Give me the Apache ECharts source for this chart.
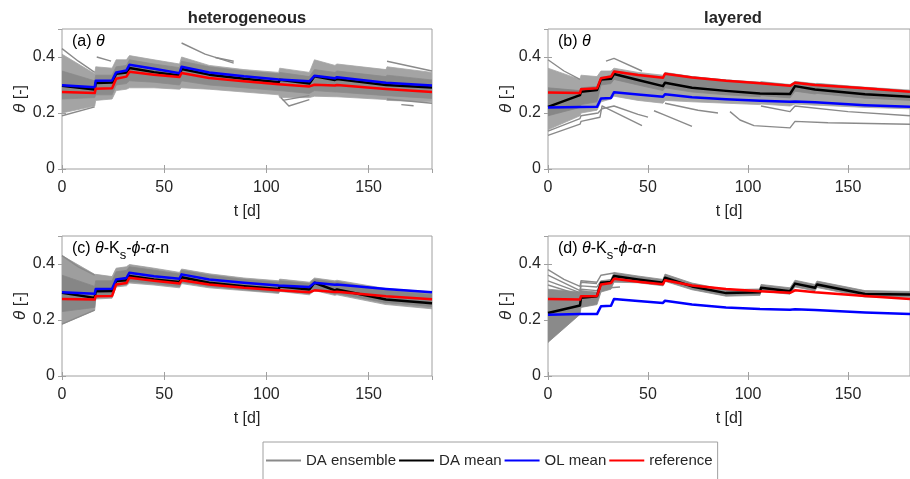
<!DOCTYPE html>
<html>
<head>
<meta charset="utf-8">
<script src="https://cdn.jsdelivr.net/npm/echarts@6/dist/echarts.min.js"></script>
<style>
  html, body { margin: 0; padding: 0; background: #ffffff; }
  #chart { width: 910px; height: 479px; }
</style>
</head>
<body>
<div id="chart"></div>
<script>
// Shared time axis (days) at which the soil-moisture traces are sampled
const days = [0, 16, 16.5, 24.5, 26.5, 31.5, 33, 45, 57.5, 58.5, 72, 89, 106, 106.5, 121, 123.5, 133.5, 134.5, 158.5, 159, 181];

// (a) heterogeneous, theta only
const hetThetaDA  = [0.297, 0.284, 0.307, 0.309, 0.340, 0.345, 0.361, 0.346, 0.334, 0.357, 0.337, 0.322, 0.310, 0.319, 0.305, 0.331, 0.318, 0.321, 0.300, 0.302, 0.291];
const hetThetaOL  = [0.299, 0.292, 0.315, 0.316, 0.345, 0.352, 0.372, 0.358, 0.342, 0.365, 0.345, 0.331, 0.320, 0.327, 0.313, 0.333, 0.324, 0.328, 0.308, 0.310, 0.298];
const hetThetaRef = [0.275, 0.271, 0.287, 0.288, 0.322, 0.330, 0.347, 0.337, 0.329, 0.343, 0.325, 0.313, 0.303, 0.304, 0.295, 0.301, 0.298, 0.300, 0.286, 0.287, 0.275];
const hetThetaEnsHi  = [0.410, 0.340, 0.365, 0.360, 0.390, 0.390, 0.405, 0.390, 0.375, 0.400, 0.370, 0.355, 0.345, 0.360, 0.345, 0.390, 0.370, 0.375, 0.355, 0.365, 0.345];
const hetThetaEnsLo  = [0.200, 0.225, 0.245, 0.250, 0.280, 0.285, 0.290, 0.290, 0.285, 0.290, 0.285, 0.275, 0.265, 0.255, 0.255, 0.260, 0.258, 0.258, 0.248, 0.245, 0.240];
const hetThetaCoreHi = [0.350, 0.315, 0.335, 0.335, 0.365, 0.370, 0.390, 0.375, 0.362, 0.385, 0.365, 0.350, 0.340, 0.345, 0.330, 0.355, 0.345, 0.350, 0.330, 0.335, 0.318];
const hetThetaCoreLo = [0.250, 0.255, 0.265, 0.265, 0.300, 0.305, 0.315, 0.310, 0.300, 0.315, 0.300, 0.290, 0.280, 0.280, 0.270, 0.280, 0.275, 0.275, 0.262, 0.262, 0.252];
const hetThetaMembers = [
  [[0, 0.43], [8, 0.385], [16, 0.345]],
  [[0, 0.19], [16, 0.222]],
  [[17, 0.40], [24, 0.385]],
  [[58.5, 0.45], [70, 0.41], [84, 0.378]],
  [[75, 0.398], [84, 0.385]],
  [[107, 0.255], [111, 0.225], [121, 0.248]],
  [[108, 0.245], [121, 0.262]],
  [[159, 0.385], [181, 0.35]],
  [[159, 0.25], [181, 0.235]],
  [[166, 0.23], [172, 0.226]]
];

// (b) layered, theta only
const layThetaDA  = [0.222, 0.264, 0.276, 0.282, 0.320, 0.322, 0.339, 0.318, 0.296, 0.308, 0.290, 0.279, 0.270, 0.276, 0.268, 0.296, 0.284, 0.286, 0.267, 0.267, 0.258];
const layThetaOL  = [0.220, 0.221, 0.221, 0.222, 0.252, 0.254, 0.274, 0.266, 0.258, 0.267, 0.256, 0.249, 0.244, 0.244, 0.240, 0.241, 0.238, 0.238, 0.228, 0.228, 0.222];
const layThetaRef = [0.273, 0.271, 0.285, 0.288, 0.324, 0.330, 0.348, 0.336, 0.326, 0.340, 0.327, 0.315, 0.306, 0.308, 0.297, 0.308, 0.300, 0.301, 0.288, 0.288, 0.276];
const layThetaEnsHi  = [0.360, 0.320, 0.335, 0.330, 0.350, 0.350, 0.360, 0.345, 0.335, 0.345, 0.330, 0.318, 0.310, 0.312, 0.302, 0.313, 0.305, 0.306, 0.292, 0.292, 0.282];
const layThetaEnsLo  = [0.140, 0.190, 0.200, 0.210, 0.240, 0.250, 0.260, 0.245, 0.235, 0.245, 0.240, 0.235, 0.230, 0.232, 0.225, 0.232, 0.228, 0.228, 0.220, 0.220, 0.215];
const layThetaCoreHi = [0.290, 0.280, 0.290, 0.295, 0.328, 0.333, 0.351, 0.339, 0.329, 0.343, 0.330, 0.318, 0.309, 0.311, 0.300, 0.311, 0.303, 0.304, 0.291, 0.291, 0.279];
const layThetaCoreLo = [0.190, 0.220, 0.230, 0.240, 0.300, 0.305, 0.320, 0.300, 0.280, 0.290, 0.275, 0.265, 0.258, 0.262, 0.254, 0.278, 0.268, 0.270, 0.253, 0.253, 0.245];
const layThetaMembers = [
  [[0, 0.39], [8, 0.35], [16, 0.32]],
  [[0, 0.12], [16, 0.16], [16.5, 0.17], [26, 0.185], [27, 0.225], [30, 0.215], [47, 0.155]],
  [[0, 0.135], [16, 0.18], [16.5, 0.19], [25, 0.2], [27, 0.215], [33, 0.225], [45, 0.195], [50, 0.185]],
  [[29, 0.385], [33, 0.395], [47, 0.35]],
  [[53, 0.208], [57.5, 0.195], [58.5, 0.2], [72, 0.152]],
  [[58.5, 0.235], [75, 0.21], [85, 0.2]],
  [[91, 0.205], [96, 0.175], [103, 0.155], [121, 0.147], [123.5, 0.17], [140, 0.165], [181, 0.16]],
  [[106.5, 0.225], [121, 0.205], [123.5, 0.225], [150, 0.205], [181, 0.19]]
];

// (c) heterogeneous, theta-Ks-phi-alpha-n
const hetAllDA  = [0.297, 0.279, 0.303, 0.304, 0.339, 0.342, 0.357, 0.345, 0.336, 0.353, 0.333, 0.321, 0.311, 0.320, 0.309, 0.333, 0.306, 0.309, 0.273, 0.273, 0.260];
const hetAllOL  = [0.299, 0.294, 0.311, 0.312, 0.345, 0.350, 0.369, 0.356, 0.347, 0.363, 0.345, 0.333, 0.323, 0.330, 0.318, 0.333, 0.326, 0.327, 0.311, 0.311, 0.299];
const hetAllRef = [0.275, 0.273, 0.285, 0.286, 0.327, 0.332, 0.351, 0.340, 0.330, 0.342, 0.327, 0.315, 0.306, 0.307, 0.299, 0.306, 0.300, 0.301, 0.285, 0.285, 0.274];
const hetAllEnsHi  = [0.430, 0.363, 0.363, 0.355, 0.385, 0.390, 0.398, 0.385, 0.370, 0.382, 0.365, 0.350, 0.340, 0.346, 0.335, 0.350, 0.340, 0.342, 0.312, 0.312, 0.300];
const hetAllEnsLo  = [0.185, 0.235, 0.275, 0.278, 0.318, 0.322, 0.332, 0.325, 0.315, 0.330, 0.315, 0.305, 0.295, 0.302, 0.290, 0.305, 0.288, 0.290, 0.255, 0.255, 0.240];
const hetAllCoreHi = [0.360, 0.320, 0.340, 0.340, 0.372, 0.377, 0.390, 0.378, 0.364, 0.377, 0.360, 0.345, 0.335, 0.340, 0.330, 0.345, 0.335, 0.337, 0.305, 0.305, 0.290];
const hetAllCoreLo = [0.230, 0.245, 0.285, 0.285, 0.322, 0.328, 0.338, 0.330, 0.320, 0.335, 0.320, 0.308, 0.298, 0.306, 0.294, 0.310, 0.292, 0.295, 0.262, 0.262, 0.248];
const hetAllMembers = [
  [[0, 0.43], [8, 0.39], [16, 0.36]],
  [[0, 0.185], [16, 0.235]]
];

// (d) layered, theta-Ks-phi-alpha-n
const layAllDA  = [0.225, 0.252, 0.279, 0.285, 0.333, 0.336, 0.357, 0.345, 0.333, 0.351, 0.320, 0.296, 0.299, 0.315, 0.303, 0.330, 0.315, 0.327, 0.293, 0.293, 0.291];
const layAllOL  = [0.219, 0.221, 0.221, 0.221, 0.249, 0.251, 0.275, 0.268, 0.261, 0.269, 0.255, 0.245, 0.239, 0.239, 0.237, 0.238, 0.236, 0.236, 0.227, 0.227, 0.221];
const layAllRef = [0.275, 0.273, 0.285, 0.286, 0.327, 0.332, 0.347, 0.337, 0.328, 0.342, 0.323, 0.311, 0.303, 0.304, 0.297, 0.306, 0.299, 0.300, 0.286, 0.286, 0.275];
const layAllEnsHi = [0.310, 0.300, 0.305, 0.300, 0.340, 0.345, 0.370, 0.357, 0.345, 0.364, 0.332, 0.308, 0.311, 0.327, 0.315, 0.342, 0.327, 0.339, 0.305, 0.305, 0.302];
const layAllEnsLo = [0.120, 0.220, 0.245, 0.255, 0.300, 0.310, 0.335, 0.333, 0.322, 0.338, 0.308, 0.285, 0.288, 0.303, 0.292, 0.318, 0.304, 0.316, 0.282, 0.282, 0.281];
const layAllMembers = [
  [[0, 0.38], [8, 0.345], [16, 0.32], [16.5, 0.34], [24.5, 0.335], [26.5, 0.36], [33, 0.368]],
  [[0, 0.36], [16, 0.305], [16.5, 0.322], [24.5, 0.318], [26.5, 0.34]],
  [[0, 0.34], [16, 0.298], [16.5, 0.335], [24.5, 0.33]],
  [[0, 0.325], [16, 0.29], [16.5, 0.31], [24.5, 0.305], [26.5, 0.33]],
  [[27, 0.305], [31, 0.315], [36, 0.318]]
];

// Axis ticks
const tTicks = { min: 0, max: 181, interval: 50 };
const thetaTicks = { min: 0, max: 0.5, interval: 0.2 };

const FONT = '"Liberation Sans", Arial, Helvetica, sans-serif';
const AXIS_GRAY = '#a0a0a0';
const TEXT = '#262626';
const ENS_GRAY = '#8a8a8a';

const panels = [
  { box: { left: 62,  top: 29,  width: 370, height: 140 }, da: hetThetaDA, ol: hetThetaOL, ref: hetThetaRef,
    outer: [hetThetaEnsLo, hetThetaEnsHi, '#a4a4a4'], core: [hetThetaCoreLo, hetThetaCoreHi, '#8b8b8b'], members: hetThetaMembers },
  { box: { left: 548, top: 29,  width: 370, height: 140 }, da: layThetaDA, ol: layThetaOL, ref: layThetaRef,
    outer: [layThetaEnsLo, layThetaEnsHi, '#a6a6a6'], core: [layThetaCoreLo, layThetaCoreHi, '#878787'], members: layThetaMembers },
  { box: { left: 62,  top: 236, width: 370, height: 140 }, da: hetAllDA, ol: hetAllOL, ref: hetAllRef,
    outer: [hetAllEnsLo, hetAllEnsHi, '#9e9e9e'], core: [hetAllCoreLo, hetAllCoreHi, '#868686'], members: hetAllMembers },
  { box: { left: 548, top: 236, width: 370, height: 140 }, da: layAllDA, ol: layAllOL, ref: layAllRef,
    outer: [layAllEnsLo, layAllEnsHi, '#8a8a8a'], core: null, members: layAllMembers }
];

const chart = echarts.init(document.getElementById('chart'), null, { renderer: 'canvas' });

const grids = [], xAxes = [], yAxes = [], series = [];
const tickStyle = { inside: true, length: 4, lineStyle: { color: AXIS_GRAY, width: 1 } };

function pairs(vals) { return days.map((d, i) => [d, vals[i]]); }

// Filled spread of the ensemble between a lower and an upper envelope
function band(idx, lo, hi, color) {
  return {
    type: 'custom', name: 'ensemble spread', xAxisIndex: 2 * idx, yAxisIndex: 2 * idx,
    coordinateSystem: 'cartesian2d', silent: true, clip: true, z: 1,
    data: [[0, 0]],
    renderItem(params, api) {
      const pts = days.map((d, i) => api.coord([d, hi[i]]));
      for (let i = days.length - 1; i >= 0; i--) pts.push(api.coord([days[i], lo[i]]));
      return { type: 'polygon', shape: { points: pts }, style: { fill: color, stroke: color, lineWidth: 0.8 } };
    }
  };
}

function line(idx, name, data, color, width, z) {
  return {
    type: 'line', name, xAxisIndex: 2 * idx, yAxisIndex: 2 * idx, data,
    symbol: 'none', showSymbol: false, silent: true, clip: true, z,
    lineStyle: { color, width, join: 'round' }, itemStyle: { color }
  };
}

panels.forEach((p, idx) => {
  grids.push(Object.assign({ show: true, borderColor: AXIS_GRAY, borderWidth: 1, backgroundColor: '#fff' }, p.box));
  xAxes.push({
    type: 'value', gridIndex: idx, position: 'bottom', ...tTicks,
    name: 't [d]', nameLocation: 'middle', nameGap: 35,
    nameTextStyle: { fontFamily: FONT, fontSize: 16, color: TEXT },
    axisLine: { show: false }, axisTick: tickStyle, splitLine: { show: false },
    axisLabel: { margin: 11, fontFamily: FONT, fontSize: 16, color: TEXT, showMaxLabel: false }
  });
  xAxes.push({
    type: 'value', gridIndex: idx, position: 'top', ...tTicks,
    axisLine: { show: false }, axisTick: tickStyle, splitLine: { show: false }, axisLabel: { show: false }
  });
  yAxes.push({
    type: 'value', gridIndex: idx, position: 'left', ...thetaTicks,
    name: '{i|θ} [-]', nameLocation: 'middle', nameGap: 33,
    nameTextStyle: { fontFamily: FONT, fontSize: 16, color: TEXT, rich: { i: { fontFamily: FONT, fontSize: 17, fontStyle: 'italic', color: TEXT } } },
    axisLine: { show: false }, axisTick: tickStyle, splitLine: { show: false },
    axisLabel: { margin: 7, fontFamily: FONT, fontSize: 16, color: TEXT, showMaxLabel: false,
      formatter: v => (v === 0 ? '0' : v.toFixed(1)) }
  });
  yAxes.push({
    type: 'value', gridIndex: idx, position: 'right', ...thetaTicks,
    axisLine: { show: false }, axisTick: tickStyle, splitLine: { show: false }, axisLabel: { show: false }
  });

  p.members.forEach(m => series.push(line(idx, 'DA ensemble', m, ENS_GRAY, 1.4, 2)));
  series.push(band(idx, p.outer[0], p.outer[1], p.outer[2]));
  if (p.core) series.push(band(idx, p.core[0], p.core[1], p.core[2]));
  series.push(line(idx, 'DA mean', pairs(p.da), '#000000', 2.5, 3));
  series.push(line(idx, 'OL mean', pairs(p.ol), '#0000ff', 2.5, 3));
  series.push(line(idx, 'reference', pairs(p.ref), '#ff0000', 2.5, 3));
});

const labelRich = {
  n:   { fontFamily: FONT, fontSize: 16, color: TEXT, verticalAlign: 'top', lineHeight: 18 },
  i:   { fontFamily: FONT, fontSize: 16, color: TEXT, fontStyle: 'italic', verticalAlign: 'top', lineHeight: 18 },
  sub: { fontFamily: FONT, fontSize: 13, color: TEXT, verticalAlign: 'top', lineHeight: 18, padding: [8, 0, 0, 0] }
};
function panelLabel(x, y, text) {
  return { type: 'text', x, y, silent: true, z: 100,
    style: { text, rich: labelRich, verticalAlign: 'top', align: 'left' } };
}
function heading(x, y, text) {
  return { type: 'text', x, y, silent: true, z: 100,
    style: { text, fontFamily: FONT, fontSize: 16.5, fontWeight: 'bold', fill: TEXT, align: 'center', verticalAlign: 'middle' } };
}

chart.setOption({
  animation: false,
  grid: grids,
  xAxis: xAxes,
  yAxis: yAxes,
  series,
  legend: {
    data: ['DA ensemble', 'DA mean', 'OL mean', 'reference'],
    left: 263, top: 442, orient: 'horizontal',
    itemWidth: 35, itemHeight: 14, itemGap: 2,
    padding: [11, 5, 14, 2],
    borderColor: AXIS_GRAY, borderWidth: 1, backgroundColor: '#fff',
    selectedMode: false,
    itemStyle: { opacity: 0 },
    textStyle: { fontFamily: FONT, fontSize: 15, color: TEXT }
  },
  graphic: [
    heading(247, 18, 'heterogeneous'),
    heading(733, 18, 'layered'),
    panelLabel(72, 34, '{n|(a) }{i|θ}'),
    panelLabel(558, 34, '{n|(b) }{i|θ}'),
    panelLabel(72, 241, '{n|(c) }{i|θ}{n|-K}{sub|s}{n|-}{i|ϕ}{n|-}{i|α}{n|-n}'),
    panelLabel(558, 241, '{n|(d) }{i|θ}{n|-K}{sub|s}{n|-}{i|ϕ}{n|-}{i|α}{n|-n}')
  ]
});
</script>
</body>
</html>
